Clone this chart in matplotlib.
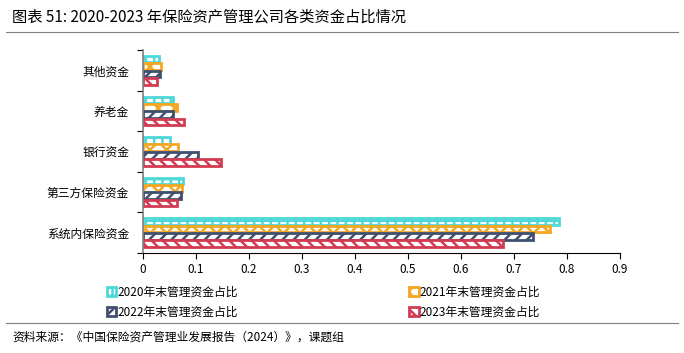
import numpy as np
import matplotlib
matplotlib.use("Agg")
from matplotlib import pyplot as plt

plt.rcParams['font.family'] = ['Noto Sans CJK SC', 'DejaVu Sans']
plt.rcParams['hatch.linewidth'] = 1.8

categories = ['其他资金', '养老金', '银行资金', '第三方保险资金', '系统内保险资金']
series_names = ['2020年末管理资金占比', '2021年末管理资金占比',
                '2022年末管理资金占比', '2023年末管理资金占比']
v2020 = [0.031, 0.057, 0.050, 0.076, 0.785]
v2021 = [0.034, 0.065, 0.066, 0.074, 0.768]
v2022 = [0.032, 0.057, 0.103, 0.072, 0.735]
v2023 = [0.027, 0.077, 0.148, 0.065, 0.679]
x_ticks = [0, 0.1, 0.2, 0.3, 0.4, 0.5, 0.6, 0.7, 0.8, 0.9]
x_labels = ['0', '0.1', '0.2', '0.3', '0.4', '0.5', '0.6', '0.7', '0.8', '0.9']

colors = ['#4fd8d8', '#f5a623', '#3f5070', '#d23c52']
hatches = ['++', 'xx', '///', '\\\\\\']

fig = plt.figure(figsize=(6.84, 3.53), dpi=100)
ax = fig.add_axes([143 / 684, 1 - 253 / 353, (620 - 143) / 684, (253 - 50) / 353])

y = np.arange(len(categories))
h = 0.18
handles = []
for i, vals in enumerate([v2020, v2021, v2022, v2023]):
    b = ax.barh(y + (i - 1.5) * h, vals, height=h * 0.92, facecolor='white',
                edgecolor=colors[i], hatch=hatches[i], linewidth=2,
                label=series_names[i])
    handles.append(b)

ax.set_ylim(4.5, -0.5)
ax.set_xlim(0, 0.9)
ax.set_yticks(y)
ax.set_yticklabels(categories, fontsize=8.5)
ax.tick_params(axis='y', which='major', length=0, pad=10)
ax.set_yticks(np.arange(-0.5, 5, 1), minor=True)
ax.tick_params(axis='y', which='minor', length=4, width=0.8)
ax.set_xticks(x_ticks)
ax.set_xticklabels(x_labels, fontsize=8.5)
ax.tick_params(axis='x', length=4, width=0.8)
for s in ['top', 'right']:
    ax.spines[s].set_visible(False)
ax.spines['left'].set_color('#808080')
ax.spines['left'].set_linewidth(1.2)
ax.spines['bottom'].set_color('black')

order = [0, 2, 1, 3]
fig.legend([handles[k] for k in order], [series_names[k] for k in order],
           ncol=2, loc='center', bbox_to_anchor=(0.473, 1 - 302 / 353),
           frameon=False, fontsize=8.5, handlelength=0.8, handleheight=0.8,
           handletextpad=0.1, columnspacing=14.5, labelspacing=0.6)

fig.text(12 / 684, 1 - 17 / 353, '图表 51: 2020-2023 年保险资产管理公司各类资金占比情况',
         fontsize=11, va='center', ha='left')
fig.add_artist(plt.Line2D([6 / 684, 678 / 684], [1 - 32 / 353, 1 - 32 / 353],
                          color='#808080', linewidth=0.8))
fig.add_artist(plt.Line2D([6 / 684, 678 / 684], [1 - 323 / 353, 1 - 323 / 353],
                          color='#808080', linewidth=0.8))
fig.text(12 / 684, 1 - 337 / 353, '资料来源：《中国保险资产管理业发展报告（2024）》，课题组',
         fontsize=8.5, va='center', ha='left')

plt.savefig('out.png', dpi=100)
